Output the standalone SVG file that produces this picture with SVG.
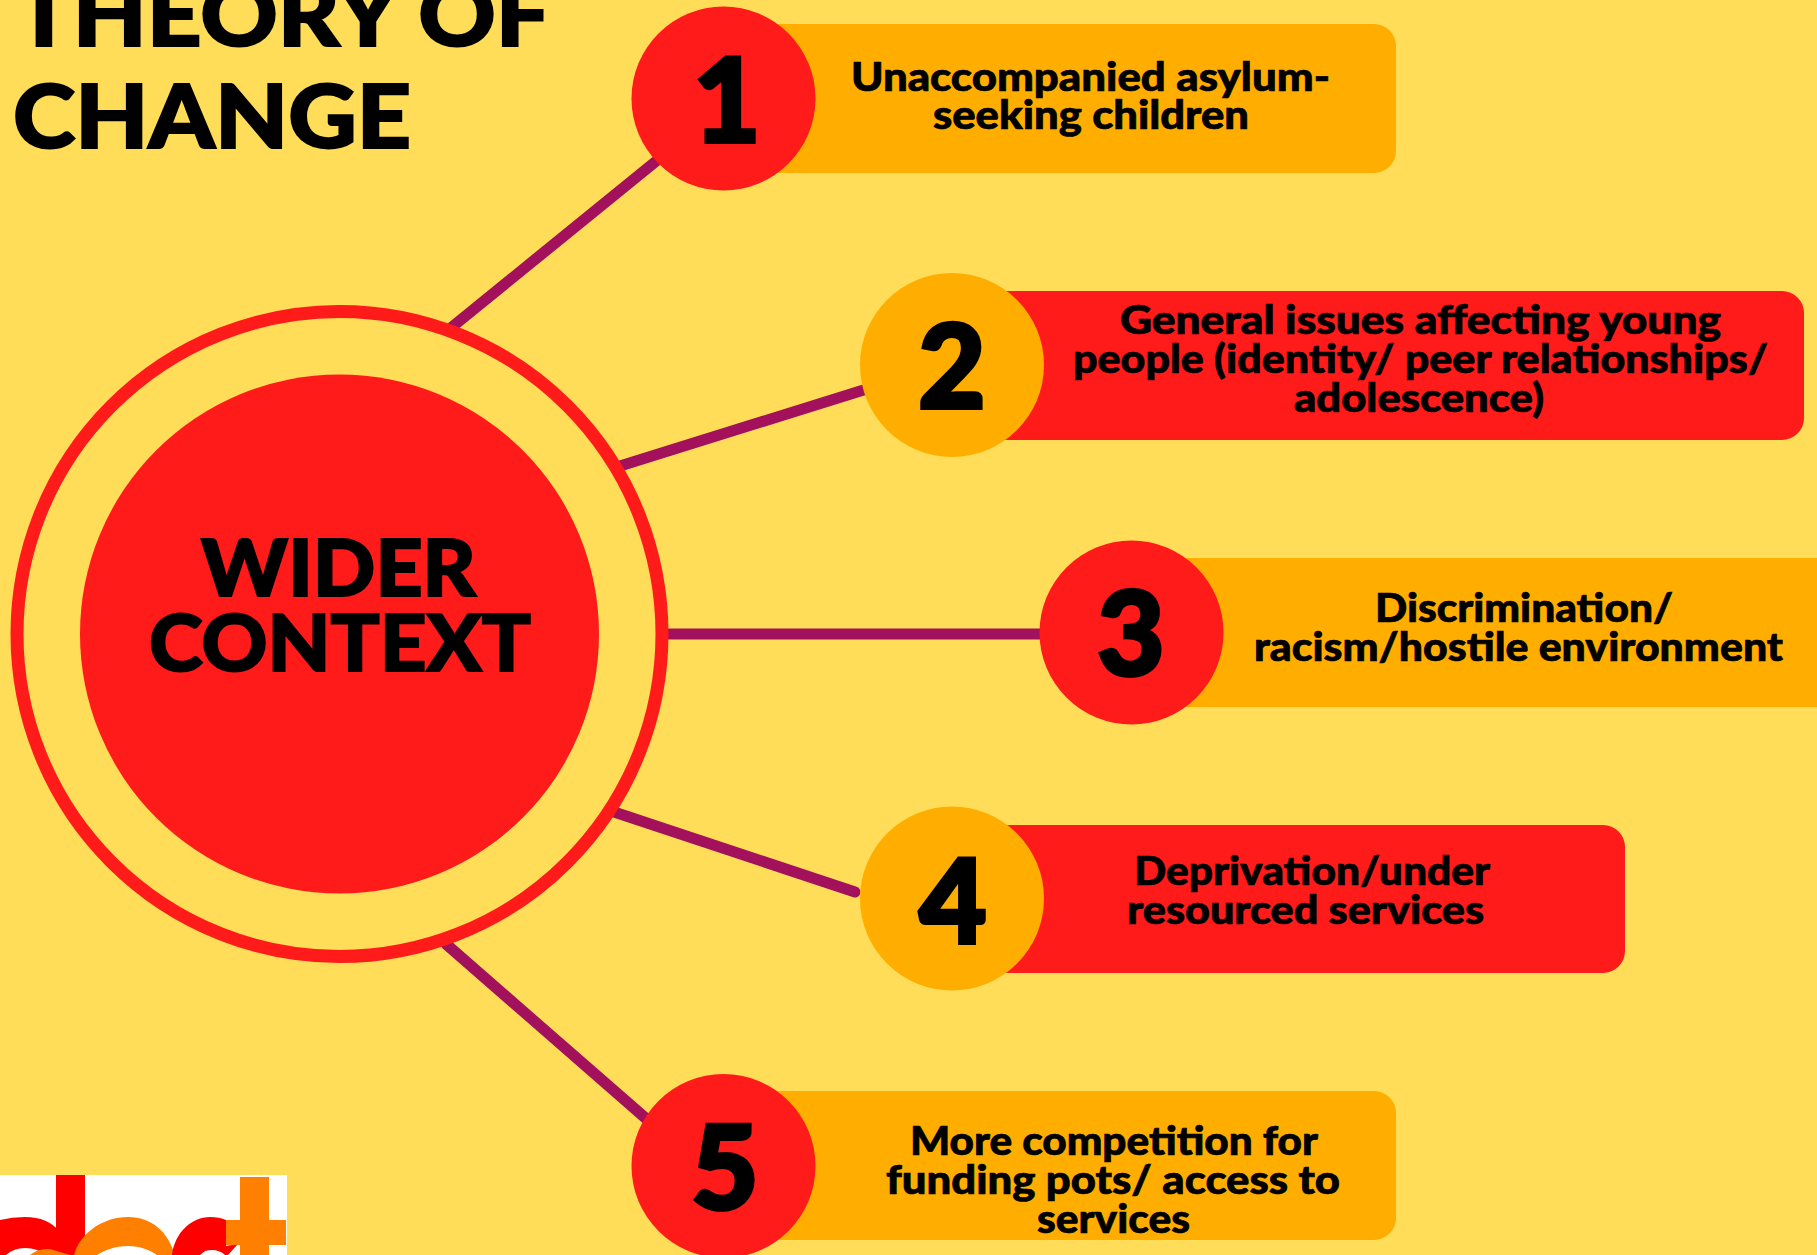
<svg xmlns="http://www.w3.org/2000/svg" width="1817" height="1255" viewBox="0 0 1817 1255">
<style>
.bg{fill:#ffdd59}
.red{fill:#ff1b1a}
.amb{fill:#ffae00}
.ln{stroke:#a3105c;stroke-width:11;stroke-linecap:round;fill:none}
.t{font-family:"Lato","Liberation Sans",sans-serif;font-weight:900;fill:#000;stroke:#000}
.h{font-size:88px;stroke-width:2}
.c{font-size:78px;stroke-width:2}
.l{font-size:39px;stroke-width:.7}
.n{font-family:"Lato",sans-serif;font-weight:900;font-size:116px;text-anchor:middle;fill:#000;stroke:#000;stroke-width:4}
</style>
<rect class="bg" width="1817" height="1255"/>
<g id="title">
<text class="t h" x="15" y="46" textLength="535" lengthAdjust="spacingAndGlyphs">THEORY OF</text>
<text class="t h" x="13" y="148" textLength="398" lengthAdjust="spacingAndGlyphs">CHANGE</text>
</g>
<g id="connectors">
<line class="ln" x1="452" y1="327" x2="660" y2="158"/>
<line class="ln" x1="620" y1="466" x2="870" y2="388"/>
<line class="ln" x1="669" y1="634" x2="1045" y2="634"/>
<line class="ln" x1="614" y1="812" x2="855" y2="892"/>
<line class="ln" x1="446" y1="944" x2="650" y2="1122"/>
</g>
<g id="center">
<circle cx="339.5" cy="634" r="322.5" fill="none" stroke="#ff1b1a" stroke-width="13"/>
<circle class="red" cx="339.5" cy="634" r="259.5"/>
<text class="t c" x="201" y="596" textLength="275" lengthAdjust="spacingAndGlyphs">WIDER</text>
<text class="t c" x="149" y="671" textLength="382" lengthAdjust="spacingAndGlyphs">CONTEXT</text>
</g>
<g id="node1">
<rect class="amb" x="740" y="24" width="656" height="149" rx="22"/>
<circle class="red" cx="723.5" cy="98.5" r="92"/>
<text class="n" x="727" y="142">1</text>
<text class="t l" x="851" y="91" textLength="479" lengthAdjust="spacingAndGlyphs">Unaccompanied asylum-</text>
<text class="t l" x="933" y="129" textLength="316" lengthAdjust="spacingAndGlyphs">seeking children</text>
</g>
<g id="node2">
<rect class="red" x="970" y="291" width="834" height="149" rx="22"/>
<circle class="amb" cx="952" cy="365" r="92"/>
<text class="n" x="952" y="408">2</text>
<text class="t l" x="1120" y="334" textLength="601" lengthAdjust="spacingAndGlyphs">General issues affecting young</text>
<text class="t l" x="1073" y="373" textLength="695" lengthAdjust="spacingAndGlyphs">people (identity/ peer relationships/</text>
<text class="t l" x="1294" y="412" textLength="250" lengthAdjust="spacingAndGlyphs">adolescence)</text>
</g>
<g id="node3">
<rect class="amb" x="1150" y="558" width="700" height="149" rx="22"/>
<circle class="red" cx="1131.5" cy="632.5" r="92"/>
<text class="n" x="1131" y="675">3</text>
<text class="t l" x="1375" y="622" textLength="298" lengthAdjust="spacingAndGlyphs">Discrimination/</text>
<text class="t l" x="1254" y="661" textLength="529" lengthAdjust="spacingAndGlyphs">racism/hostile environment</text>
</g>
<g id="node4">
<rect class="red" x="970" y="825" width="655" height="148" rx="22"/>
<circle class="amb" cx="952" cy="898.5" r="92"/>
<text class="n" x="953" y="943">4</text>
<text class="t l" x="1134" y="885" textLength="356" lengthAdjust="spacingAndGlyphs">Deprivation/under</text>
<text class="t l" x="1127" y="924" textLength="357" lengthAdjust="spacingAndGlyphs">resourced services</text>
</g>
<g id="node5">
<rect class="amb" x="740" y="1091" width="656" height="149" rx="22"/>
<circle class="red" cx="723.5" cy="1166" r="92"/>
<text class="n" x="725" y="1209">5</text>
<text class="t l" x="910" y="1155" textLength="408" lengthAdjust="spacingAndGlyphs">More competition for</text>
<text class="t l" x="886" y="1194" textLength="454" lengthAdjust="spacingAndGlyphs">funding pots/ access to</text>
<text class="t l" x="1037" y="1233" textLength="153" lengthAdjust="spacingAndGlyphs">services</text>
</g>
<g id="logo">
<rect x="0" y="1175" width="287" height="80" fill="#fff"/>
<rect x="56" y="1175" width="29" height="80" fill="#f00"/>
<path d="M0 1220Q12 1217 25 1217Q48 1217 60 1232L85 1255H44Q38 1248 25 1248Q14 1248 6 1255H0Z" fill="#f00"/>
<path d="M30 1255Q38 1248 50 1249L70 1255Z" fill="#ff8000"/>
<path d="M74 1255C80 1233 103 1217 128 1217C152 1217 168 1232 175 1255H157C150 1250 140 1246 128 1246C115 1246 105 1250 97 1255Z" fill="#ff8000"/>
<path d="M172 1255C175 1232 192 1217 210 1217C216 1217 222 1218 226 1220L226 1246L238 1244L228 1255H225C220 1250 212 1249 205 1251L200 1255Z" fill="#f00"/>
<rect x="240" y="1177" width="29" height="78" fill="#ff8000"/>
<rect x="226" y="1220" width="60" height="25" fill="#ff8000"/>
</g>
</svg>
